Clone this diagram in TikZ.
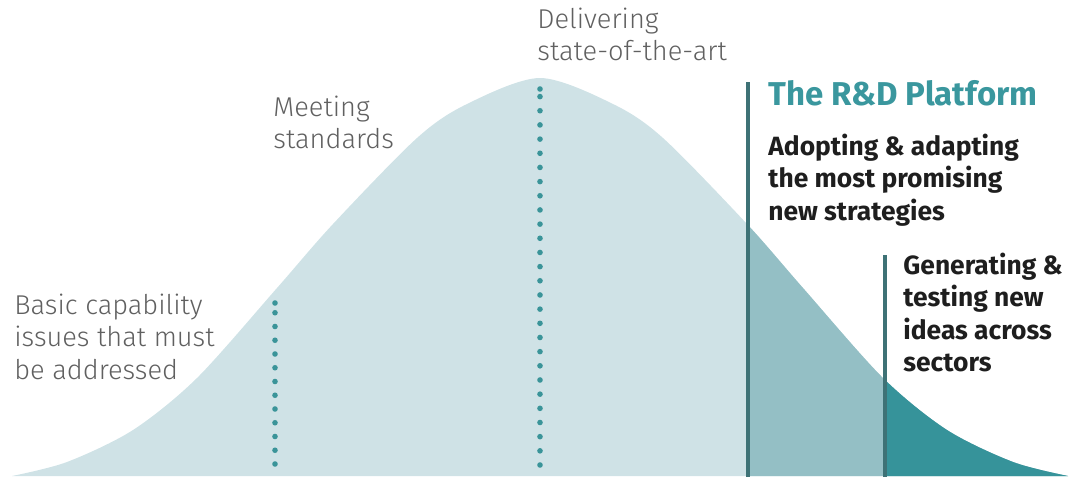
\documentclass[tikz,border=0pt]{standalone}
\usepackage{fontspec}
\setmainfont{Fira Sans}
\newfontfamily\firalight{Fira Sans Light}
\definecolor{bellLight}{HTML}{CFE2E6}
\definecolor{bellMid}{HTML}{94BFC5}
\definecolor{bellDark}{HTML}{36939A}
\definecolor{lineCol}{HTML}{3E7276}
\definecolor{dotCol}{HTML}{3A9499}
\definecolor{grayTxt}{HTML}{606060}
\definecolor{blackTxt}{HTML}{1E1E1E}
\definecolor{titleCol}{HTML}{3A979E}
\newcommand\bellfill[1]{\fill[#1] plot[smooth] coordinates {(12,476) (67,462) (133,430) (197,378) (277,288) (333,224) (417,138) (467,104) (540,78) (613,104) (663,138) (747,224) (803,288) (883,378) (947,430) (1013,462) (1068,476)} -- cycle;}
\tikzset{
  graytxt/.style={anchor=base west, inner sep=0pt, text=grayTxt, font=\firalight\fontsize{13.6}{16.25}\selectfont},
  boldtxt/.style={anchor=base west, inner sep=0pt, text=blackTxt, font=\fontsize{13.2}{16.25}\selectfont\bfseries},
  titletxt/.style={anchor=base west, inner sep=0pt, text=titleCol, font=\fontsize{16.5}{19}\selectfont\bfseries},
  divider/.style={draw=lineCol, line width=2pt},
  dotmark/.style={fill=dotCol}
}
\begin{document}
\begin{tikzpicture}[x=0.5pt,y=-0.5pt]
\useasboundingbox (0,0) rectangle (1078,478);
% bell curve
\bellfill{bellLight}
\begin{scope}
  \clip (748,0) rectangle (1078,478);
  \bellfill{bellMid}
\end{scope}
\begin{scope}
  \clip (885,0) rectangle (1078,478);
  \bellfill{bellDark}
\end{scope}
% dotted lines
\foreach \i in {0,...,11} \fill[dotmark] (275,{464-13.75*\i}) circle[radius=1.4pt];
\fill[dotmark] (275,303) circle[radius=1.4pt];
\foreach \i in {0,...,26} \fill[dotmark] (540,{465-14.17*\i}) circle[radius=1.4pt];
\fill[dotmark] (540,89) circle[radius=1.4pt];
% dividers
\coordinate (d1top) at (748,82);
\coordinate (d1bot) at (748,477);
\coordinate (d2top) at (885,255);
\coordinate (d2bot) at (885,477);
\draw[divider] (d1top) -- (d1bot);
\draw[divider] (d2top) -- (d2bot);
% texts
\node[graytxt] (basic) at (14,314) {\begin{tabular}[t]{@{}l@{}}Basic capability\\issues that must\\be addressed\end{tabular}};
\node[graytxt] (meeting) at (273,116) {\begin{tabular}[t]{@{}l@{}}Meeting\\standards\end{tabular}};
\node[graytxt] (deliver) at (537,28) {\begin{tabular}[t]{@{}l@{}}Delivering\\state-of-the-art\end{tabular}};
\node[titletxt] (title) at (768,105) {The R\&D Platform};
\node[boldtxt] (adopt) at (768,155) {\begin{tabular}[t]{@{}l@{}}Adopting \& adapting\\the most promising\\new strategies\end{tabular}};
\node[boldtxt] (gen) at (903,274) {\begin{tabular}[t]{@{}l@{}}Generating \&\\testing new\\ideas across\\sectors\end{tabular}};
\end{tikzpicture}
\end{document}
